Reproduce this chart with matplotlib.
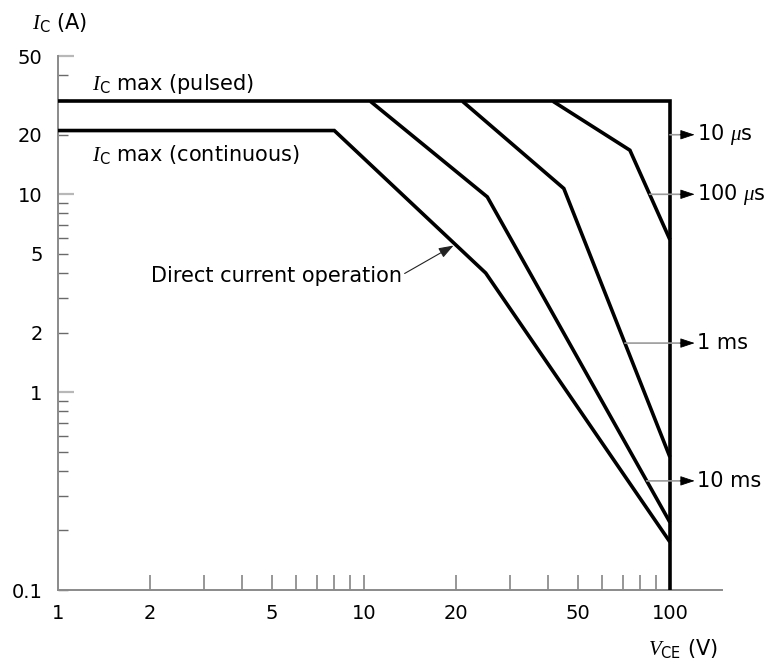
import numpy as np
import matplotlib
matplotlib.use('Agg')
import matplotlib.pyplot as plt
from matplotlib.ticker import FixedLocator, FuncFormatter

plt.rcParams['font.family'] = ['DejaVu Sans']
plt.rcParams['mathtext.fontset'] = 'custom'
plt.rcParams['mathtext.rm'] = 'DejaVu Sans'
plt.rcParams['mathtext.it'] = 'Liberation Serif:italic'
plt.rcParams['mathtext.bf'] = 'DejaVu Sans:bold'

# ---------------- data ----------------
# pulsed limit: I_C max (pulsed) and V_CE max boundary (10 us)
pulsed_v = [1, 100, 100]
pulsed_i = [29.5, 29.5, 0.1]
# direct current operation (starts with I_C max continuous)
dc_v = [1, 8, 25, 100]
dc_i = [21, 21, 4.0, 0.175]
# 10 ms pulse
ms10_v = [10.5, 25.3, 100]
ms10_i = [29.5, 9.7, 0.22]
# 1 ms pulse
ms1_v = [21, 45, 100]
ms1_i = [29.5, 10.7, 0.47]
# 100 us pulse
us100_v = [41.5, 74, 100]
us100_i = [29.5, 16.7, 5.9]

x_tick_labels = [1, 2, 5, 10, 20, 50, 100]
y_tick_labels = [0.1, 1, 2, 5, 10, 20, 50]
pulse_names = ['10 $\\mu$s', '100 $\\mu$s', '1 ms', '10 ms']
pulse_label_currents = [20, 10, 1.77, 0.356]

# ---------------- figure ----------------
W, H = 768, 664
fig = plt.figure(figsize=(W / 100, H / 100), dpi=100)
ax = fig.add_axes([58 / W, 74 / H, (722 - 58) / W, (590 - 56) / H])
ax.set_xscale('log')
ax.set_yscale('log')
ax.set_xlim(1, 148)
ax.set_ylim(0.1, 50)

LW = 2.6
curves = [(pulsed_v, pulsed_i), (dc_v, dc_i), (ms10_v, ms10_i),
          (ms1_v, ms1_i), (us100_v, us100_i)]
for v, i in curves:
    ax.plot(v, i, color='black', lw=LW, solid_joinstyle='miter',
            solid_capstyle='butt', clip_on=False, zorder=3)

# spines
for s in ['top', 'right']:
    ax.spines[s].set_visible(False)
for s in ['left', 'bottom']:
    ax.spines[s].set_color('#8a8a8a')
    ax.spines[s].set_linewidth(1.4)

# x ticks
x_minor = [2, 3, 4, 5, 6, 7, 8, 9, 10, 20, 30, 40, 50, 60, 70, 80, 90, 100]
ax.xaxis.set_major_locator(FixedLocator([1]))
ax.xaxis.set_minor_locator(FixedLocator(x_minor))
fmt_x = FuncFormatter(lambda v, p: ('%g' % v) if any(np.isclose(v, t) for t in x_tick_labels) else '')
ax.xaxis.set_major_formatter(fmt_x)
ax.xaxis.set_minor_formatter(fmt_x)
ax.tick_params(axis='x', which='major', direction='in', length=0, pad=10, labelsize=14)
ax.tick_params(axis='x', which='minor', direction='in', length=10.8, width=1.1,
               color='#7a7a7a', pad=10, labelsize=14)

# y ticks
y_major = [1, 10, 50]
y_minor = [0.1, 0.2, 0.3, 0.4, 0.5, 0.6, 0.7, 0.8, 0.9,
           2, 3, 4, 5, 6, 7, 8, 9, 20, 30, 40]
ax.yaxis.set_major_locator(FixedLocator(y_major))
ax.yaxis.set_minor_locator(FixedLocator(y_minor))
fmt_y = FuncFormatter(lambda v, p: ('%g' % v) if any(np.isclose(v, t) for t in y_tick_labels) else '')
ax.yaxis.set_major_formatter(fmt_y)
ax.yaxis.set_minor_formatter(fmt_y)
ax.tick_params(axis='y', which='major', direction='in', length=11.5, width=1.6,
               color='#b8b8b8', pad=11, labelsize=14)
ax.tick_params(axis='y', which='minor', direction='in', length=7, width=1.0,
               color='#6a6a6a', pad=11, labelsize=14)

# axis labels
ax.set_ylabel(r'$I_{\rm C}$ (A)', rotation=0, fontsize=15, ha='center', va='center')
ax.yaxis.set_label_coords((60 - 58) / 664, (590 - 22) / 534)
ax.set_xlabel(r'$V_{\rm CE}$ (V)', fontsize=15, ha='center', va='center')
ax.xaxis.set_label_coords((683 - 58) / 664, (590 - 648) / 534)

# curve labels
ax.text(1.29, 33.6, r'$I_{\rm C}$ max (pulsed)', fontsize=15, ha='left', va='baseline')
ax.text(1.29, 14.7, r'$I_{\rm C}$ max (continuous)', fontsize=15, ha='left', va='baseline')


def v_at(vs, is_, cur):
    return 10 ** np.interp(np.log10(cur), np.log10(is_[::-1]), np.log10(vs[::-1]))


def i_at(vs, is_, volt):
    return 10 ** np.interp(np.log10(volt), np.log10(vs), np.log10(is_))


dc_target = 19.9
ax.annotate('Direct current operation', xy=(dc_target, i_at(dc_v, dc_i, dc_target)),
            xytext=(13.3, 3.6), fontsize=15, ha='right', va='baseline',
            arrowprops=dict(arrowstyle='-|>,head_length=0.45,head_width=0.16',
                            color='#222222', lw=0.8, mutation_scale=20,
                            relpos=(1.0, 0.55), shrinkA=0, shrinkB=1.5))

# pulse-length labels on the right
pulse_curves = [(pulsed_v, pulsed_i), (us100_v, us100_i), (ms1_v, ms1_i), (ms10_v, ms10_i)]
for name, cur, (vs, is_) in zip(pulse_names, pulse_label_currents, pulse_curves):
    v0 = v_at(vs, is_, cur)
    ax.annotate('', xy=(v0, cur), xytext=(112, cur), annotation_clip=False,
                arrowprops=dict(arrowstyle='-', color='#9a9a9a', lw=1.2,
                                shrinkA=0, shrinkB=0))
    ax.annotate(name, xy=(108, cur), xytext=(123, cur), fontsize=15,
                ha='left', va='center', annotation_clip=False,
                arrowprops=dict(arrowstyle='<|-,head_length=0.45,head_width=0.15',
                                color='black', lw=0.6, mutation_scale=20,
                                shrinkA=0, shrinkB=0))

fig.savefig('out.png', dpi=100)
